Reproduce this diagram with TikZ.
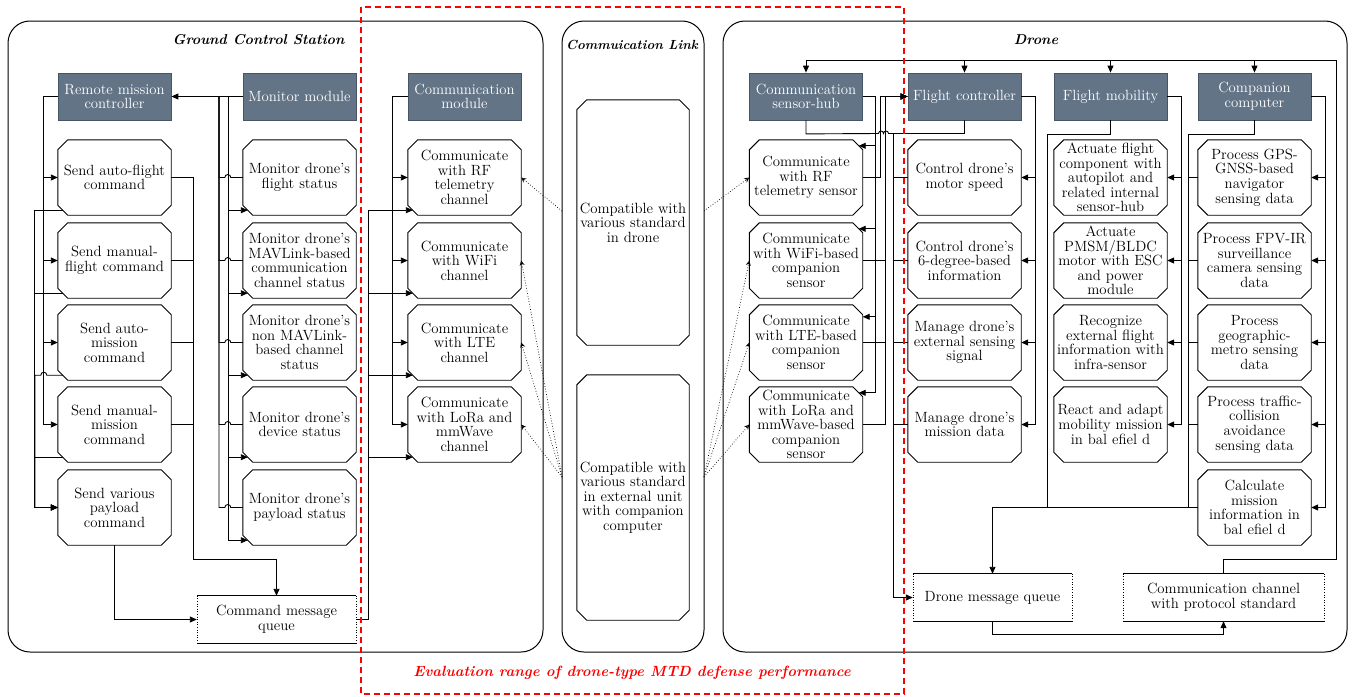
\documentclass[tikz,border=0pt]{standalone}
\usetikzlibrary{arrows.meta,calc}
\definecolor{hdrfill}{RGB}{100,116,135}
\definecolor{hdrline}{RGB}{70,84,100}
\definecolor{evalred}{RGB}{255,0,0}

\tikzset{
  txt/.style={font=\fontsize{14.8}{14.6}\selectfont, align=center, inner sep=0pt},
  hdr/.style={txt, draw=hdrline, fill=hdrfill, text=white, text width=113pt, minimum height=47pt, line width=0.8pt},
  octbox/.style={txt, text width=113pt, minimum height=75pt},
  octline/.style={line width=0.9pt},
  wire/.style={line width=0.9pt},
  arr/.style={wire, -{Triangle[length=7pt,width=6pt]}},
  dotarr/.style={line width=0.7pt, dotted, -{Stealth[open,length=5pt,width=5pt]}},
  frame/.style={line width=1pt, rounded corners=22pt},
  title/.style={font=\fontsize{14.3}{16}\selectfont\bfseries\itshape},
}

% a line that may be a little wider than its box, kept centred
\newcommand\wideline[1]{\makebox[0pt]{#1}}

% chamfered box: options, name, centre, text
\newcommand\octo[4]{%
  \node[octbox,#1] (#2) at (#3) {#4};
  \draw[octline] ([xshift=10pt]#2.north west) -- ([xshift=-10pt]#2.north east)
    -- ([yshift=-10pt]#2.north east) -- ([yshift=10pt]#2.south east)
    -- ([xshift=-10pt]#2.south east) -- ([xshift=10pt]#2.south west)
    -- ([yshift=10pt]#2.south west) -- ([yshift=-10pt]#2.north west) -- cycle;}

% queue box: solid top and bottom, dotted sides
\newcommand\queue[4]{%
  \node[txt,minimum height=47pt,#1] (#2) at (#3) {#4};
  \draw[wire] (#2.north west) -- (#2.north east) (#2.south west) -- (#2.south east);
  \draw[line width=0.6pt, dotted] (#2.north west) -- (#2.south west) (#2.north east) -- (#2.south east);}

\begin{document}
\begin{tikzpicture}[x=1pt,y=-1pt]
\useasboundingbox (0,0) rectangle (1356,696);

% ---- containers ----
\draw[frame] (8,21) rectangle (543,652);
\draw[frame] (562,21) rectangle (704,652);
\draw[frame] (723,21) rectangle (1347,652);

\node[title, anchor=east] (tgcs) at (348,40) {Ground Control Station};
\node[title, font=\fontsize{13.2}{15}\selectfont\bfseries\itshape] (tlink) at (632,45) {Commuication Link};
\node[title] (tdrone) at (1036,40) {Drone};

% ---- headers ----
\node[hdr] (rmc) at (114.5,96.5) {Remote mission\\controller};
\node[hdr] (mm)  at (299.5,96.5) {Monitor module};
\node[hdr] (cm)  at (464.5,96.5) {Communication\\module};
\node[hdr] (sh)  at (806,96.5)   {Communication\\sensor-hub};
\node[hdr] (fc)  at (964.5,96.5) {Flight controller};
\node[hdr] (fm)  at (1110.5,96.5) {Flight mobility};
\node[hdr] (cc)  at (1254.5,96.5) {Companion\\computer};

% ---- ground control station ----
\octo{}{s1}{114.5,177.5}{Send auto-flight\\command}
\octo{}{s2}{114.5,260.5}{Send manual-\\flight command}
\octo{}{s3}{114.5,342.5}{Send auto-\\mission\\command}
\octo{}{s4}{114.5,424.5}{Send manual-\\mission\\command}
\octo{}{s5}{114.5,507.5}{Send various\\payload\\command}

\octo{}{m1}{299.5,177.5}{Monitor drone’s\\flight status}
\octo{}{m2}{299.5,260.5}{Monitor drone’s\\\wideline{MAVLink-based}\\communication\\channel status}
\octo{}{m3}{299.5,342.5}{Monitor drone’s\\non MAVLink-\\based channel\\status}
\octo{}{m4}{299.5,424.5}{Monitor drone’s\\device status}
\octo{}{m5}{299.5,507.5}{Monitor drone’s\\payload status}

\octo{}{c1}{464.5,177.5}{Communicate\\with RF\\telemetry\\channel}
\octo{}{c2}{464.5,260.5}{Communicate\\with WiFi\\channel}
\octo{}{c3}{464.5,342.5}{Communicate\\with LTE\\channel}
\octo{}{c4}{464.5,424.5}{Communicate\\with LoRa and\\mmWave\\channel}

\queue{minimum width=159pt}{cmq}{276.5,619.5}{Command message\\queue}

% ---- communication link ----
\octo{text width=112pt, minimum height=245pt}{l1}{633,222.5}{Compatible with\\various standard\\in drone}
\octo{text width=112pt, minimum height=245pt}{l2}{633,497.5}{Compatible with\\various standard\\in external unit\\with companion\\computer}

% ---- drone ----
\octo{}{h1}{806,177.5}{Communicate\\with RF\\telemetry sensor}
\octo{}{h2}{806,260.5}{Communicate\\\wideline{with WiFi-based}\\companion\\sensor}
\octo{}{h3}{806,342.5}{Communicate\\with LTE-based\\companion\\sensor}
\octo{}{h4}{806,424.5}{Communicate\\with LoRa and\\mmWave-based\\companion\\sensor}

\octo{}{f1}{964.5,177.5}{Control drone’s\\motor speed}
\octo{}{f2}{964.5,260.5}{Control drone’s\\6-degree-based\\information}
\octo{}{f3}{964.5,342.5}{Manage drone’s\\external sensing\\signal}
\octo{}{f4}{964.5,424.5}{Manage drone’s\\mission data}

\octo{}{a1}{1110.5,177.5}{Actuate flight\\component with\\autopilot and\\related internal\\sensor-hub}
\octo{}{a2}{1110.5,260.5}{Actuate\\PMSM/BLDC\\motor with ESC\\and power\\module}
\octo{}{a3}{1110.5,342.5}{Recognize\\external flight\\information with\\infra-sensor}
\octo{}{a4}{1110.5,424.5}{React and adapt\\mobility mission\\in bal efiel d}

\octo{}{p1}{1254.5,177.5}{Process GPS-\\GNSS-based\\navigator\\sensing data}
\octo{}{p2}{1254.5,260.5}{Process FPV-IR\\surveillance\\camera sensing\\data}
\octo{}{p3}{1254.5,342.5}{Process\\geographic-\\metro sensing\\data}
\octo{}{p4}{1254.5,424.5}{Process traffic-\\collision\\avoidance\\sensing data}
\octo{}{p5}{1254.5,507.5}{Calculate\\mission\\information in\\bal efiel d}

\queue{minimum width=159pt}{dmq}{992.5,597.5}{Drone message queue}
\queue{minimum width=201pt}{ch}{1223.5,597.5}{Communication channel\\with protocol standard}

% ---- junction points ----
\coordinate (jS) at (193,559);
\coordinate (mIn) at (228,96.5);
\coordinate (mOut) at (219,96.5);
\coordinate (lkA) at (562,211);
\coordinate (lkB) at (562,477);
\coordinate (lkC) at (704,211);
\coordinate (lkD) at (704,477);
\coordinate (busR) at (1336,559);
\coordinate (busT) at (1336,60);
\coordinate (dq) at (1047,507.5);
\coordinate (cq) at (1188,507.5);
\coordinate (fj) at (893,133.5);

% ---- ground station wiring ----
\foreach \k in {1,...,4}
  \draw[arr] (rmc.west) -| ([xshift=-14pt]s\k.west) -- (s\k.west);
\foreach \k in {1,2,4}
  \draw[arr] ([xshift=5pt,yshift=5pt]s\k.south west) -| ([xshift=-23pt]s5.west) -- (s5.west);
\draw[arr] ([xshift=5pt,yshift=5pt]s3.south west) -- ([xshift=-11pt,yshift=5pt]s3.south west)
  arc[start angle=0,end angle=180,radius=3pt] -| ([xshift=-23pt]s5.west) -- (s5.west);
\draw[wire] (s1.east) -| (jS);
\foreach \k in {2,3,4}
  \draw[wire] (s\k.east) -- (s\k.east -| jS);
\draw[arr] (jS) -| (cmq.north);
\draw[arr] (s5.south) |- (cmq.west);

\draw[arr] (mm.west) -- (rmc.east);
\foreach \k in {1,...,5}
  \draw[arr] (mIn) |- ([xshift=5pt,yshift=5pt]m\k.south west);
\foreach \k in {1,...,5}
  \draw[wire] (m\k.west) -- ([xshift=-12pt]m\k.west)
    arc[start angle=0,end angle=180,radius=3pt] -| (mOut);

\foreach \k in {1,...,4}
  \draw[arr] (cm.west) -| ([xshift=-15pt]c\k.west) -- (c\k.west);
\foreach \k in {1,...,4}
  \draw[arr] (cmq.east) -| ([xshift=-39pt,yshift=5pt]c\k.south west) -- ([xshift=5pt,yshift=5pt]c\k.south west);

% ---- radio links ----
\draw[dotarr] (lkA) -- (c1.east);
\foreach \k in {2,3,4} \draw[dotarr] (lkB) -- (c\k.east);
\draw[dotarr] (lkC) -- (h1.west);
\foreach \k in {2,3,4} \draw[dotarr] (lkD) -- (h\k.west);

% ---- drone wiring ----
\draw[wire] (ch.north) |- (busR) -- (busT);
\foreach \n in {sh,fc,fm,cc} \draw[arr] (busT) -| (\n.north);
\draw[arr] (dmq.south) -- ++(0,13) -| (ch.south);

\draw[arr] (fm.south) -- ++(0,14) -| (dq) -| (dmq.north);
\draw[wire] (cc.south) -- ++(0,14) -| (cq);
\draw[wire] (p5.west) -- (dq);
\foreach \k in {1,...,4} \draw[wire] (p\k.west) -- (p\k.west -| cq);

\foreach \k in {1,...,4} \draw[arr] (fc.east) -| ([xshift=14pt]f\k.east) -- (f\k.east);
\foreach \k in {1,...,4} \draw[arr] (fm.east) -| ([xshift=14pt]a\k.east) -- (a\k.east);
\foreach \k in {1,...,5} \draw[arr] (cc.east) -| ([xshift=14pt]p\k.east) -- (p\k.east);

\foreach \k/\dy/\cx in {1/6pt/4pt, 2/6pt/4pt, 3/12pt/0pt, 4/6pt/4pt}
  \draw[arr] (sh.east) -| ([xshift=13pt,yshift=-\dy]h\k.north east) -- ([xshift=-\cx,yshift=-\dy]h\k.north east);
\draw[arr] (h1.east) -- ++(18,0) |- (fc.west);
\foreach \k in {2,3,4} \draw[arr] (h\k.east) -- ++(23,0) |- (fc.west);

\draw[wire] (sh.south) -- ++(0,13.5) -- ([xshift=-14.5pt]fj)
  arc[start angle=180,end angle=0,radius=2.5pt]
  arc[start angle=180,end angle=0,radius=2.5pt] -- (fc.south |- fj) -- (fc.south);
\draw[arr] (fj) |- (dmq.west);
\foreach \k in {1,...,4} \draw[wire] (f\k.west) -- (f\k.west -| fj);

% ---- evaluation range ----
\draw[evalred, line width=1.6pt, dash pattern=on 6pt off 4pt] (361,7) rectangle (904,694);
\node[title, text=evalred, font=\fontsize{14.8}{16}\selectfont\bfseries\itshape] (teval) at (632,673) {Evaluation range of drone-type MTD defense performance};
\end{tikzpicture}
\end{document}
